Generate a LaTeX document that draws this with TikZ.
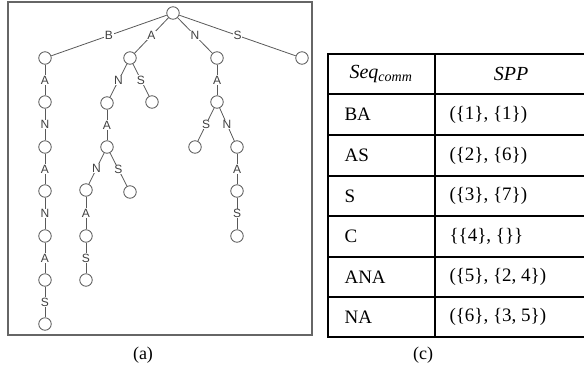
\documentclass[tikz,border=0pt]{standalone}
\usepackage{fontspec}
\setmainfont{Liberation Serif}
\newfontfamily\treefont{Liberation Sans}
\begin{document}
\begin{tikzpicture}[x=1pt,y=-1pt,
  vtx/.style={circle,draw=black!65,fill=white,line width=0.8pt,minimum size=12.5pt,inner sep=0pt},
  lbl/.style={fill=white,inner sep=0.5pt,text=black!75,font=\treefont\fontsize{12}{13}\selectfont},
  edge/.style={draw=black!65,line width=0.8pt},
  cell/.style={anchor=west,font=\fontsize{19}{21}\selectfont},
  hcell/.style={font=\itshape\fontsize{20}{22}\selectfont},
  grid/.style={line width=1.8pt},
  caption/.style={font=\fontsize{18}{20}\selectfont}]
\useasboundingbox (0,0) rectangle (584,373);

% frame of the tree
\draw[black!60,line width=1.2pt] (8,2) rectangle (312,335);

% tree nodes
\node[vtx] (r) at (173,13) {};
\node[vtx] (b1) at (45,58) {};
\node[vtx] (a1) at (130,58) {};
\node[vtx] (n1) at (217,58) {};
\node[vtx] (s1) at (302,58) {};
% B branch
\node[vtx] (b2) at (45,102) {};
\node[vtx] (b3) at (45,147) {};
\node[vtx] (b4) at (45,191) {};
\node[vtx] (b5) at (45,236) {};
\node[vtx] (b6) at (45,280) {};
\node[vtx] (b7) at (45,324) {};
% A branch
\node[vtx] (a2) at (107,103) {};
\node[vtx] (a3) at (152,102) {};
\node[vtx] (a4) at (107,147) {};
\node[vtx] (a5) at (86,190) {};
\node[vtx] (a6) at (130,192) {};
\node[vtx] (a7) at (86,236) {};
\node[vtx] (a8) at (86,280) {};
% N branch
\node[vtx] (n2) at (217,102) {};
\node[vtx] (n3) at (195,147) {};
\node[vtx] (n4) at (237,147) {};
\node[vtx] (n5) at (237,191) {};
\node[vtx] (n6) at (237,236) {};

% labelled edges
\foreach \u/\v/\t in {r/b1/B, r/a1/A, r/n1/N, r/s1/S,
  b1/b2/A, b2/b3/N, b3/b4/A, b4/b5/N, b5/b6/A, b6/b7/S,
  a1/a2/N, a1/a3/S, a2/a4/A, a4/a5/N, a4/a6/S, a5/a7/A, a7/a8/S,
  n1/n2/A, n2/n3/S, n2/n4/N, n4/n5/A, n5/n6/S}
  \draw[edge] (\u) -- node[lbl] {\t} (\v);

% table
\draw[grid] (328,54) -- (584,54);
\foreach \y in {94,135,176,216,257,297}
  \draw[line width=1.6pt] (328,\y) -- (584,\y);
\draw[grid] (328,337) -- (584,337);
\draw[grid] (328,53.1) -- (328,337.9);
\draw[line width=1.6pt] (435,54) -- (435,337);

\node[hcell] (h1) at (381,74) {Seq\textsubscript{comm}};
\node[hcell] (h2) at (511,74) {SPP};

\node[cell] (c1) at (341,114.5) {BA};
\node[cell] (d1) at (446,114.5) {(\{1\}, \{1\})};
\node[cell] (c2) at (341,155.5) {AS};
\node[cell] (d2) at (446,155.5) {(\{2\}, \{6\})};
\node[cell] (c3) at (341,196) {S};
\node[cell] (d3) at (446,196) {(\{3\}, \{7\})};
\node[cell] (c4) at (341,236.5) {C};
\node[cell] (d4) at (446,236.5) {\{\{4\}, \{\}\}};
\node[cell] (c5) at (341,277) {ANA};
\node[cell] (d5) at (446,277) {(\{5\}, \{2, 4\})};
\node[cell] (c6) at (341,317) {NA};
\node[cell] (d6) at (446,317) {(\{6\}, \{3, 5\})};

% captions
\node[caption] (capa) at (143,355) {(a)};
\node[caption] (capc) at (423,355) {(c)};
\end{tikzpicture}
\end{document}
